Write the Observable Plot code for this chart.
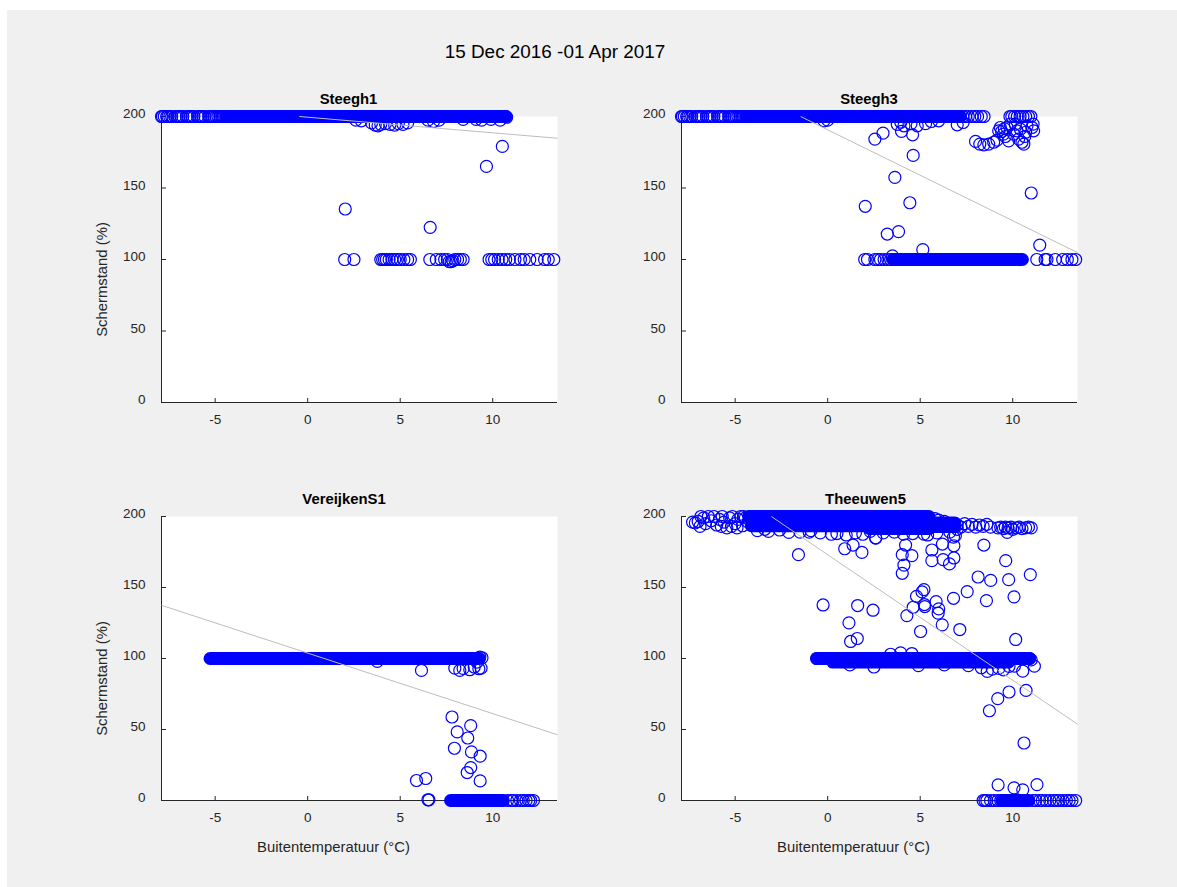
<!DOCTYPE html>
<html>
<head>
<meta charset="utf-8">
<script src="https://cdn.jsdelivr.net/npm/d3@7"></script>
<script src="https://cdn.jsdelivr.net/npm/@observablehq/plot@0.6"></script>
<style>
  html, body { margin: 0; padding: 0; background: #ffffff; width: 1177px; height: 887px; overflow: hidden; }
  #fig { position: absolute; left: 7px; top: 10px; width: 1170px; height: 877px; background: #f0f0f0; }
  .panel { position: absolute; }
  #title { position: absolute; left: 0; width: 1110px; top: 40px; text-align: center;
           font-family: "Liberation Sans", Arial, Helvetica, sans-serif; font-size: 18.9px; color: #000; line-height: 24px; }
</style>
</head>
<body>
<div id="fig"></div>
<div id="title">15 Dec 2016 -01 Apr 2017</div>
<script>
// ---------- data ----------
const panelNames = ["Steegh1", "Steegh3", "VereijkenS1", "Theeuwen5"];
const xTicks = [-5, 0, 5, 10];
const yTicks = [0, 50, 100, 150, 200];
const xDomain = [-7.9, 13.5];
const yDomain = [0, 200];
const xLabel = "Buitentemperatuur (°C)";
const yLabel = "Schermstand (%)";
// linear fit: y = intercept + slope * x
const regIntercept = [199.5, 190.7, 103.8, 173.1];
const regSlope = [-1.09, -6.36, -4.26, -8.84];

// dense clusters of points, read as [xFrom, xTo, y]
const steegh1Bands = [[-4.4, 10.75, 200]];
const steegh3Bands = [[-4.4, 7.2, 200], [3.55, 10.55, 100]];
const vereijkenBands = [[-5.25, 9.3, 100], [7.75, 10.6, 0]];
const theeuwenBands = [[-4.25, 5.5, 200], [-4.1, 2.3, 193.5], [2.3, 5.5, 191.5], [5.6, 6.9, 195.5], [5.6, 6.9, 193],
  [-0.55, 10.95, 100], [0.3, 9.8, 97.5], [9.45, 10.9, 0]];

// individual points [x, y]
const steegh1Points = [
  [-7.9,200],[-7.85,200],[-7.75,200],[-7.62,200],[-7.55,200],[-7.45,200],[-7.35,200],[-7.15,200],[-7.05,200],
  [-6.95,200],[-6.85,200],[-6.75,200],[-6.55,200],[-6.45,200],[-6.35,200],[-6.25,200],[-6.15,200],[-5.95,200],
  [-5.85,200],[-5.75,200],[-5.65,200],[-5.55,200],[-5.35,200],[-5.25,200],[-5.15,200],[-5.05,200],[-4.95,200],
  [-4.85,200],[-4.75,200],[-4.65,200],[-4.55,200],
  [2.6,197.5],[2.9,197],[3.45,195.5],[3.65,194],[3.8,193.5],[3.95,194.5],[4.2,195],[4.45,194.5],[4.7,194],
  [4.9,195],[5.15,194.5],[5.4,195.5],[6.5,197.5],[6.8,196.5],[7.1,197.5],[8.4,198],[9.1,198],[9.4,197.5],
  [9.9,198],[10.4,197.5],[10.75,199.5],
  [9.66,165.1],[10.52,179.1],[2.03,135.3],[6.62,122.5],
  [2.0,100],[2.5,100],[3.95,100],[4.05,100],[4.15,100],[4.25,100],[4.4,100],[4.55,100],[4.7,100],[4.85,100],
  [5.0,100],[5.2,100],[5.4,100],[5.55,100],
  [6.6,100],[6.95,100],[7.2,100],[7.4,100],[7.55,100],[7.65,98.5],[7.75,98.5],[7.85,99],[7.95,100],[8.1,100],
  [8.25,100],[8.4,100],
  [9.8,100],[9.95,100],[10.1,100],[10.3,100],[10.5,100],[10.7,100],[10.9,100],[11.2,100],[11.5,100],[11.7,100],
  [12.0,100],[12.4,100],[12.8,100],[13.0,100],[13.3,100]
];
const steegh3Points = [
  [-7.9,200],[-7.85,200],[-7.75,200],[-7.62,200],[-7.55,200],[-7.45,200],[-7.35,200],[-7.15,200],[-7.05,200],
  [-6.95,200],[-6.85,200],[-6.75,200],[-6.55,200],[-6.45,200],[-6.35,200],[-6.25,200],[-6.15,200],[-5.95,200],
  [-5.85,200],[-5.75,200],[-5.65,200],[-5.55,200],[-5.35,200],[-5.25,200],[-5.15,200],[-5.05,200],[-4.95,200],
  [-4.85,200],[-4.75,200],[-4.65,200],[-4.55,200],
  [7.3,200],[7.45,200],[7.6,200],[7.8,200],[7.95,200],[8.1,200],[8.3,200],[8.45,200],
  [9.85,200],[9.95,200],[10.1,200],[10.25,200],[10.4,200],[10.55,200],[10.7,200],[10.85,200],[10.98,200],
  [-0.2,197],[0.0,197.5],
  [3.76,194.5],[3.95,196],[4.12,193.5],[4.5,195],[4.84,193.5],[5.29,195],[5.6,196.5],[6.0,197],[7.0,194.2],[7.32,195.8],
  [2.55,184.2],[2.99,188.4],[3.99,189.6],[4.59,187.2],[4.62,172.8],[3.63,157.4],[2.03,137.2],[4.44,139.7],
  [3.22,117.8],[3.83,119.5],[5.14,106.9],[11.0,146.5],[11.46,110.1],
  [7.99,182.6],[8.22,180.7],[8.44,180.2],[8.7,180.7],[8.97,182],[9.15,183.5],[9.24,190],[9.33,192.3],[9.5,187.7],
  [9.69,192.3],[9.78,183],[9.87,194.7],[10.05,187.7],[10.23,190],[10.32,184.2],[10.5,182],[10.6,180.7],[10.41,191.2],
  [10.77,193.5],[11.04,192.3],[11.13,190],[11.1,194.7],[10.14,194.7],[9.4,189.5],[9.55,191.5],[9.6,186],[10.65,186],[10.7,189],
  [2.0,100],[2.15,100],[2.55,100],[2.7,100],[2.85,100],[3.05,100],[3.25,100],[3.4,100],[3.5,102.5],
  [11.3,100],[11.75,100],[11.85,100],[12.3,100],[12.7,100],[12.95,100],[13.2,100],[13.4,100]
];
const vereijkenPoints = [
  [9.42,100.5],[9.3,101],[9.15,97.5],[3.76,98],
  [6.15,91.6],[7.95,93.2],[8.22,91.6],[8.4,93],[8.76,92.1],[9.0,94],[9.25,92.8],[9.37,93.2],
  [7.8,58.8],[8.08,48.3],[8.81,52.7],[8.65,44.0],[7.93,36.8],[8.85,34.2],[9.32,31.2],[8.81,23.2],[8.62,19.7],
  [9.32,13.8],[5.88,14.1],[6.38,15.5],
  [6.5,0.5],[6.55,0.5],
  [10.8,0],[11.0,0],[11.1,0],[11.3,0],[11.5,0],[11.65,0],[11.8,0],[11.95,0],[12.05,0],[12.2,0]
];
const theeuwenPoints = [
  [-7.3,196],[-7.15,195.5],[-7.0,196.5],[-6.85,200],[-6.7,199],[-6.6,195],[-6.45,200],[-6.3,197],[-6.15,200],
  [-6.0,194],[-5.85,198],[-5.7,200],[-5.6,196],[-5.45,192],[-5.3,199],[-5.15,200],[-5.0,195],[-4.85,198],
  [-4.7,200],[-4.6,193.5],[-4.45,199],[-4.3,196],[-6.9,193],[-5.75,193],[-5.2,193],[-4.9,192],[-4.55,200],
  [-3.8,190],[-3.2,189.5],[-2.6,190.5],[-1.5,189],[-0.4,188.5],[0.2,187.5],[1.0,187],[1.9,187.5],[3.0,188.5],
  [3.6,189],[4.6,188],[5.4,187],[-3.4,191],[-0.9,190],[2.3,189.5],
  [-2.1,188.8],[-1.0,189],[0.5,188],[1.5,188.5],[2.6,185],[4.1,187.6],[5.2,187.6],[6.8,185.5],[7.0,191],
  [7.0,194],[7.2,192.5],[7.4,195],[7.6,193],[7.8,194.5],[8.0,192.5],[8.2,194],[8.4,193],[8.6,194.5],[8.8,192.5],
  [6.0,197.5],[6.3,196.5],[5.8,198.5],[6.6,189],[5.9,188.5],
  [9.2,192],[9.35,192.5],[9.5,191.5],[9.6,192.5],[9.7,188.8],[9.75,192],[9.9,192.5],[10.0,191],[10.2,192],
  [10.35,192.5],[10.5,191.5],[10.7,192],[10.85,192.5],[11.0,192],
  [-1.58,173.1],[0.92,177.3],[1.37,179.9],[1.85,174.7],[2.59,184.8],[4.21,179.9],[4.03,173.1],[4.55,172.4],
  [4.12,165.8],[4.03,160.0],[5.63,176.4],[5.63,168.9],[6.2,180.6],[6.24,169.6],[6.58,166.6],[6.82,179.4],
  [6.82,170.8],[6.9,186.5],[8.44,179.9],[9.62,168.9],[8.13,157.4],[8.81,155.0],[9.78,155.5],[10.95,159.1],
  [7.54,147.1],[6.8,142.4],[8.58,140.8],[10.07,143.4],[4.8,143.8],[5.2,148.5],[5.1,146.9],[4.62,136.1],
  [5.23,138.0],[5.25,136.6],[5.86,140.1],[6.0,134.9],[5.97,131.9],[6.19,123.7],[4.28,130.2],[5.02,119.0],
  [7.14,120.4],[-0.25,137.7],[1.62,137.3],[2.45,134.0],[1.15,125.1],[1.24,112.0],[1.6,114.1],[10.16,113.4],
  [11.17,94.6],[10.54,91.1],[10.09,94.6],[8.62,90.9],[9.19,71.7],[9.8,76.4],[10.72,77.5],[8.74,63.2],
  [10.61,40.5],[9.21,11.0],[10.07,8.9],[10.54,7.5],[11.31,11.2],
  [3.94,104],[4.55,103.5],[3.4,103],[2.5,94],[1.2,95.5],[4.9,95],[6.3,95.5],[7.6,95],[8.3,93.5],
  [9.25,93],[9.5,92],[9.8,94.5],[8.9,92.5],[10.9,100],[11.0,99],[-0.6,100],[-0.45,100],[-0.3,100],
  [8.4,0],[8.5,0],[8.6,0],[8.8,0],[9.0,0],[9.2,0],[9.35,0],
  [11.1,0],[11.25,0],[11.45,0],[11.6,0],[11.8,0],[12.0,0],[12.2,0],[12.35,0],[12.5,0],[12.7,0],[12.9,0],
  [13.05,0],[13.2,0],[13.4,0]
];

// ---------- drawing ----------
const blue = "#0000ff";
const axisColor = "#262626";
const font = "'Liberation Sans', Arial, Helvetica, sans-serif";
const mL = 101, mR = 20, mT = 46, mB = 60, plotW = 396;

const panels = [
  {i: 0, points: steegh1Points, bands: steegh1Bands, left: 60, top: 70, plotH: 286, yLab: true, xLab: false, tdx: -11},
  {i: 1, points: steegh3Points, bands: steegh3Bands, left: 580, top: 70, plotH: 286, yLab: false, xLab: false, tdx: -10.5},
  {i: 2, points: vereijkenPoints, bands: vereijkenBands, left: 60, top: 470, plotH: 284, yLab: true, xLab: true, tdx: -15.5},
  {i: 3, points: theeuwenPoints, bands: theeuwenBands, left: 580, top: 470, plotH: 284, yLab: false, xLab: true, tdx: -14}
];

function regLine(i) {
  const a = regIntercept[i], b = regSlope[i];
  const x1 = Math.max(xDomain[0], (yDomain[1] - a) / b);
  const x2 = xDomain[1];
  return [{x1, y1: a + b * x1, x2, y2: a + b * x2}];
}

for (const p of panels) {
  const marks = [
    Plot.frame({fill: "white", stroke: null}),
    Plot.ruleX([xDomain[0]], {stroke: axisColor, strokeWidth: 1}),
    Plot.ruleY([yDomain[0]], {stroke: axisColor, strokeWidth: 1}),
    Plot.tickY(yTicks, {y: d => d, stroke: axisColor, insetRight: plotW - 5}),
    Plot.tickX(xTicks, {x: d => d, stroke: axisColor, insetTop: p.plotH - 4}),
    Plot.axisY({ticks: yTicks, tickSize: 0, tickPadding: 16, dy: -2.5, tickFormat: d => String(d), fontSize: 13.5}),
    Plot.axisX({ticks: xTicks, tickSize: 0, tickPadding: 11.5, tickFormat: d => String(d), fontSize: 13.5}),
    Plot.ruleY(p.bands, {y: d => d[2], x1: d => d[0], x2: d => d[1], stroke: blue, strokeWidth: 13, strokeLinecap: "round"}),
    Plot.dot(p.points, {x: d => d[0], y: d => d[1], r: 6, stroke: blue, strokeWidth: 1.2, fill: "none"}),
    Plot.link(regLine(p.i), {x1: "x1", y1: "y1", x2: "x2", y2: "y2", stroke: "#bdbdbd", strokeWidth: 1}),
    Plot.text([panelNames[p.i]], {frameAnchor: "top", dy: -17, dx: p.tdx, fontWeight: "bold", fontSize: 14.85,
      fill: "#000", textAnchor: "middle", lineAnchor: "middle"})
  ];
  if (p.yLab) marks.push(Plot.text([yLabel], {frameAnchor: "left", rotate: -90, dx: -59, dy: 20, fontSize: 14.85,
      fill: axisColor, textAnchor: "middle", lineAnchor: "middle"}));
  if (p.xLab) marks.push(Plot.text([xLabel], {frameAnchor: "bottom", dx: -26, dy: 46.7, fontSize: 14.85,
      fill: axisColor, textAnchor: "middle", lineAnchor: "middle"}));

  const chart = Plot.plot({
    width: mL + plotW + mR,
    height: mT + p.plotH + mB,
    marginLeft: mL, marginRight: mR, marginTop: mT, marginBottom: mB,
    style: {fontFamily: font, fontSize: "13.5px", color: axisColor, background: "transparent", overflow: "visible"},
    x: {domain: xDomain, label: null},
    y: {domain: yDomain, label: null},
    marks
  });
  chart.classList.add("panel");
  chart.style.left = p.left + "px";
  chart.style.top = p.top + "px";
  chart.style.position = "absolute";
  document.body.appendChild(chart);
}
</script>
</body>
</html>
